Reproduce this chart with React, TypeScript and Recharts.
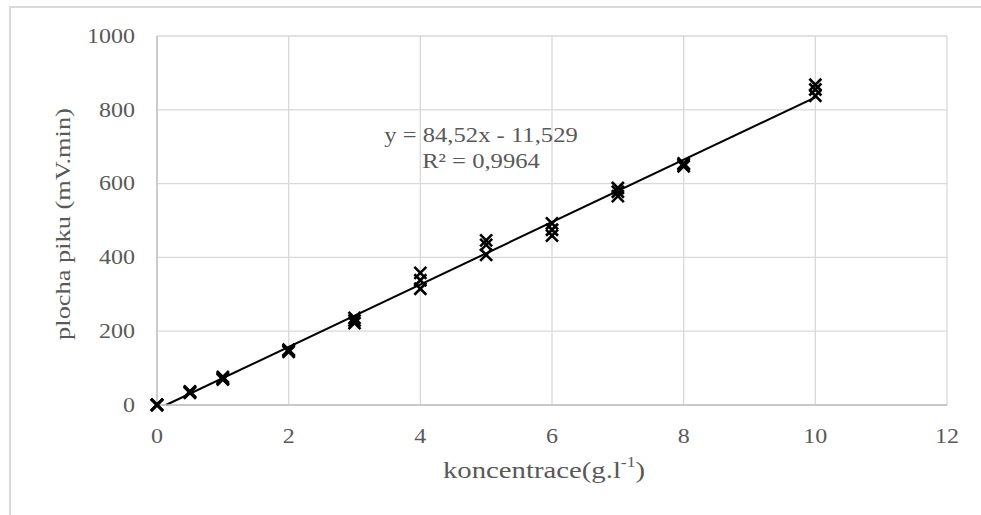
import { ScatterChart, Scatter, XAxis, YAxis, CartesianGrid, ReferenceLine } from 'recharts'

// koncentrace (g/l) and three replicate peak areas (mV.min)
const concentrations = [0, 0.5, 1, 2, 3, 4, 5, 6, 7, 8, 10]
const replicate1 = [0, 37, 76, 150, 236, 358, 446, 492, 588, 655, 868]
const replicate2 = [1, 35, 72, 147, 229, 338, 434, 475, 578, 651, 855]
const replicate3 = [0, 33, 69, 144, 222, 315, 407, 459, 566, 647, 838]

const xTicks = [0, 2, 4, 6, 8, 10, 12]
const yTicks = [0, 200, 400, 600, 800, 1000]

// linear trend from the chart
const slope = 84.52
const intercept = -11.529
const trendEnd = 10

const points = concentrations.flatMap((c, i) => [
  { x: c, y: replicate1[i] },
  { x: c, y: replicate2[i] },
  { x: c, y: replicate3[i] },
])

const FONT = '"Liberation Serif", "Times New Roman", serif'
const TEXT = '#595959'
const STRETCH = 1.2

const Cross = ({ cx, cy }: any) => (
  <g stroke="#000" strokeWidth={2.6} strokeLinecap="butt">
    <line x1={cx - 6} y1={cy - 6} x2={cx + 6} y2={cy + 6} />
    <line x1={cx - 6} y1={cy + 6} x2={cx + 6} y2={cy - 6} />
  </g>
)

const XTick = ({ x, y, payload }: any) => (
  <g transform={`translate(${x},${y + 23})`}>
    <text transform={`scale(${STRETCH},1)`} textAnchor="middle" dominantBaseline="central" fontFamily={FONT} fontSize={20} fill={TEXT}>
      {payload.value}
    </text>
  </g>
)

const YTick = ({ x, y, payload }: any) => (
  <g transform={`translate(${x - 14},${y})`}>
    <text transform={`scale(${STRETCH},1)`} textAnchor="end" dominantBaseline="central" fontFamily={FONT} fontSize={20} fill={TEXT}>
      {payload.value}
    </text>
  </g>
)

export default function App() {
  const x0 = -intercept / slope // where the trend line crosses y = 0

  return (
    <div style={{ position: 'absolute', left: 0, top: 0, width: 981, height: 515, overflow: 'hidden', background: '#fff' }}>
      <div style={{ position: 'absolute', left: 9, top: 6, width: 1000, height: 600, border: '2px solid #d9d9d9' }} />
      <div style={{ position: 'absolute', left: 0, top: 0 }}>
        <ScatterChart width={981} height={515} margin={{ top: 36, right: 34, left: 97, bottom: 70 }}>
          <CartesianGrid stroke="#d9d9d9" strokeWidth={1.3} />
          <XAxis
            type="number"
            dataKey="x"
            domain={[0, 12]}
            ticks={xTicks}
            height={40}
            tickLine={false}
            axisLine={{ stroke: '#bfbfbf', strokeWidth: 1.3 }}
            tick={<XTick />}
            interval={0}
          />
          <YAxis
            type="number"
            dataKey="y"
            domain={[0, 1000]}
            ticks={yTicks}
            width={60}
            tickLine={false}
            axisLine={{ stroke: '#bfbfbf', strokeWidth: 1.3 }}
            tick={<YTick />}
            interval={0}
          />
          <ReferenceLine
            segment={[
              { x: x0, y: 0 },
              { x: trendEnd, y: slope * trendEnd + intercept },
            ]}
            stroke="#000"
            strokeWidth={2}
          />
          <Scatter data={points} shape={<Cross />} isAnimationActive={false} />
        </ScatterChart>
      </div>
      <svg width={981} height={515} style={{ position: 'absolute', left: 0, top: 0, pointerEvents: 'none' }}>
        <g transform="translate(62,224) rotate(-90)">
          <text transform={`scale(${STRETCH},1)`} textAnchor="middle" dominantBaseline="central" fontFamily={FONT} fontSize={22} fill={TEXT}>
            plocha piku (mV.min)
          </text>
        </g>
        <g transform="translate(544,470)">
          <text transform="scale(1.25,1)" textAnchor="middle" dominantBaseline="central" fontFamily={FONT} fontSize={23} fill={TEXT}>
            koncentrace(g.l<tspan fontSize={14} dy={-8}>-1</tspan>
            <tspan dy={8}>)</tspan>
          </text>
        </g>
        <g transform="translate(481,134)">
          <text transform="scale(1.12,1)" textAnchor="middle" dominantBaseline="central" fontFamily={FONT} fontSize={22} fill={TEXT}>
            y = 84,52x - 11,529
          </text>
        </g>
        <g transform="translate(481,160)">
          <text transform="scale(1.12,1)" textAnchor="middle" dominantBaseline="central" fontFamily={FONT} fontSize={22} fill={TEXT}>
            R² = 0,9964
          </text>
        </g>
      </svg>
    </div>
  )
}
